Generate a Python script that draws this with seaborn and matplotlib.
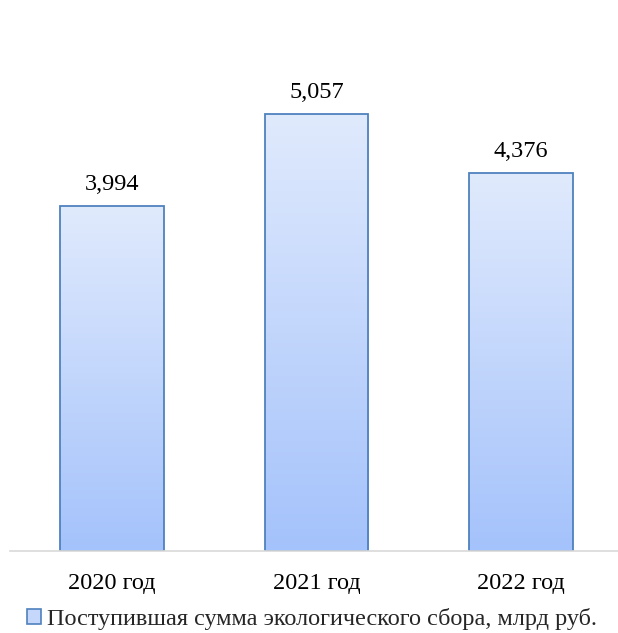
import matplotlib
matplotlib.use("Agg")
import matplotlib.pyplot as plt
import numpy as np
import pandas as pd
import seaborn as sns
from matplotlib.colors import LinearSegmentedColormap
from matplotlib.patches import Rectangle

# data
years = ["2020 год", "2021 год", "2022 год"]
amounts = [3.994, 5.057, 4.376]
series_name = "Поступившая сумма экологического сбора, млрд руб."

df = pd.DataFrame({"year": years, "amount": amounts})

sns.set_style("white")
plt.rcParams['font.family'] = ['Liberation Serif', 'DejaVu Serif']

fig = plt.figure(figsize=(6.18, 6.33), dpi=100)
# axes runs a little past the right edge, like the original
ax = fig.add_axes([9.75/618, 82/633, 613.5/618, 518/633])

edge = "#4f81bd"
sns.barplot(data=df, x="year", y="amount", width=0.505, color="#c5d8fc",
            edgecolor=edge, linewidth=1.3, ax=ax)

# vertical gradient inside every bar (light on top, darker at the bottom)
grad = LinearSegmentedColormap.from_list("bargrad", ["#a4c2fb", "#e0eafd"])
grad_img = np.linspace(0, 1, 256).reshape(-1, 1)
for p in ax.patches:
    x0, w, h = p.get_x(), p.get_width(), p.get_height()
    im = ax.imshow(grad_img, cmap=grad, origin="lower", aspect="auto",
                   extent=[x0, x0 + w, 0, h], zorder=p.get_zorder())
    im.set_clip_path(p)
    p.set_facecolor("none")
    p.set_zorder(p.get_zorder() + 1)

# value labels with comma decimal separator
for p, v in zip(ax.patches, amounts):
    ax.annotate(f"{v:.3f}".replace(".", ","),
                (p.get_x() + p.get_width() / 2, p.get_height()),
                xytext=(0, 8), textcoords="offset points",
                ha="center", va="bottom", fontsize=17.5, color="black")

ax.set_xlim(-0.5, 2.5)
ax.set_ylim(0, 6)
ax.set_xlabel("")
ax.set_ylabel("")
ax.set_yticks([])
ax.tick_params(axis="x", labelsize=17.5, length=0, pad=16, colors="black")
for s in ["top", "right", "left"]:
    ax.spines[s].set_visible(False)
ax.spines["bottom"].set_color("#d9d9d9")
ax.spines["bottom"].set_linewidth(1.2)

handle = Rectangle((0, 0), 1, 1, facecolor="#c5d8fc", edgecolor=edge, linewidth=1.2)
fig.legend([handle], [series_name], loc="center", bbox_to_anchor=(0.505, 14/633),
           frameon=False, fontsize=17.5, handlelength=0.55, handleheight=0.55,
           handletextpad=0.25, borderaxespad=0, borderpad=0)

fig.savefig("out.png", dpi=100)
